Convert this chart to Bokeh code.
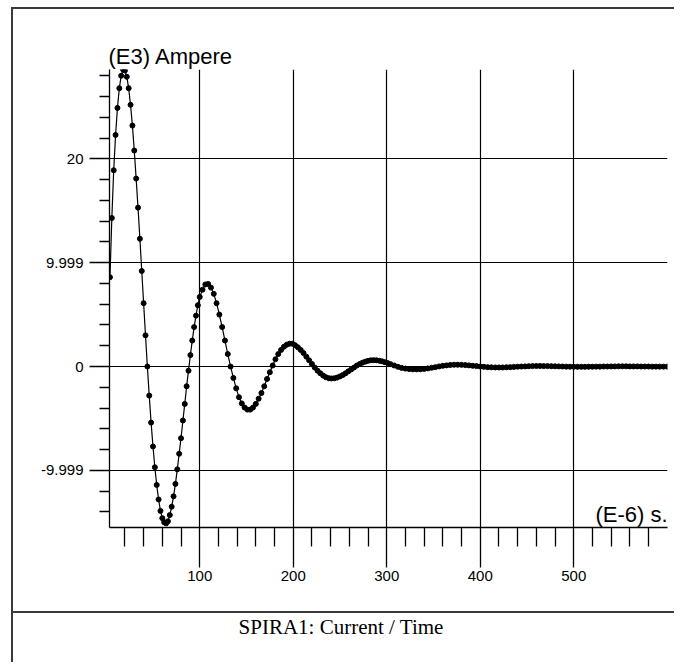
from bokeh.plotting import figure
from bokeh.models import FixedTicker, Label, Range1d, Title, Div, InlineStyleSheet
from bokeh.layouts import column
from bokeh.embed import file_html
from bokeh.resources import INLINE

# ---- data (time in E-6 s, current in E3 A) ----
time_a = list(range(4, 102, 2))
current_a = [8.6, 14.3, 18.9, 22.3, 24.9, 26.8, 28.0, 28.6, 28.5, 27.9,
             26.8, 25.2, 23.2, 20.8, 18.1, 15.3, 12.3, 9.2, 6.1, 3.0,
             0.0, -2.8, -5.4, -7.7, -9.7, -11.4, -12.8, -13.9, -14.6, -15.0,
             -15.1, -14.9, -14.3, -13.5, -12.5, -11.3, -9.9, -8.4, -6.9, -5.2,
             -3.6, -1.9, -0.4, 1.1, 2.5, 3.8, 4.9, 5.9, 6.7]

time_b = list(range(103, 304, 3))
current_b = [7.4, 7.9, 7.95, 7.6, 7.0, 6.1, 5.0, 3.8, 2.5, 1.2,
             0.0, -1.1, -2.1, -2.95, -3.55, -3.95, -4.15, -4.15, -3.95, -3.6,
             -3.1, -2.55, -1.9, -1.2, -0.55, 0.1, 0.7, 1.2, 1.6, 1.9,
             2.1, 2.2, 2.2, 2.05, 1.85, 1.6, 1.3, 0.95, 0.6, 0.25,
             -0.1, -0.4, -0.65, -0.87, -1.03, -1.12, -1.15, -1.13, -1.06, -0.95,
             -0.82, -0.65, -0.46, -0.28, -0.1, 0.09, 0.24, 0.37, 0.47, 0.55,
             0.6, 0.61, 0.6, 0.56, 0.5, 0.42, 0.33]

time_c = list(range(304, 604, 4))
current_c = [0.23, 0.1, -0.03, -0.13, -0.2, -0.25, -0.27, -0.27, -0.26, -0.23,
             -0.18, -0.12, -0.06, 0.01, 0.07, 0.11, 0.15, 0.17, 0.17, 0.16,
             0.14, 0.11, 0.07, 0.04, 0.0, -0.03, -0.06, -0.08, -0.09, -0.09,
             -0.09, -0.07, -0.06, -0.04, -0.02, 0.0, 0.01, 0.03, 0.04, 0.05,
             0.05, 0.04, 0.04, 0.03, 0.02, 0.01, 0.0, -0.01, -0.02, -0.02,
             -0.03, -0.03, -0.03, -0.02, -0.02, -0.01, -0.01, 0.0, 0.0, 0.01,
             0.01, 0.02, 0.02, 0.02, 0.01, 0.01, 0.01, 0.0, 0.0, 0.0,
             -0.01, -0.01, -0.01, -0.01, -0.01]

time_us = time_a + time_b + time_c
current_ka = current_a + current_b + current_c

x_major = [100, 200, 300, 400, 500]
x_minor = [20, 40, 60, 80, 120, 140, 160, 180, 220, 240, 260, 280, 320, 340,
           360, 380, 420, 440, 460, 480, 520, 540, 560, 580]
y_major = [-10, 0, 10, 20]
y_minor = [-14, -12, -8, -6, -4, -2, 2, 4, 6, 8, 12, 14, 16, 18, 22, 24, 26, 28]
y_tick_text = {-10: "-9.999", 0: "0", 10: "9.999", 20: "20"}

y_title = "(E3) Ampere"
x_title = "(E-6) s."
chart_title = "SPIRA1: Current / Time"

SANS = "Liberation Sans"
SERIF = "Liberation Serif"
EDGE = "#3a3a3a"

no_scrollbars = InlineStyleSheet(css=(
    "* { scrollbar-width: none !important; }\n"
    "*::-webkit-scrollbar { display: none !important; width: 0 !important; "
    "height: 0 !important; }"
))

p = figure(width=661, height=602, output_backend="svg", toolbar_location=None,
           x_range=Range1d(3.5, 600.3), y_range=Range1d(-15.5, 28.6),
           min_border_left=96, min_border_right=7,
           min_border_top=60, min_border_bottom=84, margin=0,
           styles={"overflow": "hidden"}, stylesheets=[no_scrollbars])
p.outline_line_color = None
p.background_fill_color = "white"
p.border_fill_color = "white"

for ax in (p.xaxis[0], p.yaxis[0]):
    ax.axis_line_color = "black"
    ax.axis_line_width = 1.3
    ax.major_tick_line_color = "black"
    ax.minor_tick_line_color = "black"
    ax.major_tick_line_width = 1.3
    ax.minor_tick_line_width = 1.3
    ax.major_tick_in = 0
    ax.minor_tick_in = 0
    ax.major_label_text_font = SANS
    ax.major_label_text_font_size = "15px"
    ax.major_label_text_color = "black"

p.xaxis.ticker = FixedTicker(ticks=x_major, minor_ticks=x_minor)
p.xaxis.major_tick_out = 40
p.xaxis.minor_tick_out = 19
p.xaxis.major_label_standoff = 3

p.yaxis.ticker = FixedTicker(ticks=y_major, minor_ticks=y_minor)
p.yaxis.major_label_overrides = {float(k): v for k, v in y_tick_text.items()}
p.yaxis.major_tick_out = 20
p.yaxis.minor_tick_out = 10
p.yaxis.major_label_standoff = 6

p.xgrid.ticker = FixedTicker(ticks=x_major)
p.ygrid.ticker = FixedTicker(ticks=y_major)
for g in (p.xgrid[0], p.ygrid[0]):
    g.grid_line_color = "black"
    g.grid_line_alpha = 1.0
    g.grid_line_width = 1.2

p.line(time_us, current_ka, line_color="black", line_width=1.2)
p.scatter(time_us, current_ka, marker="circle", size=5, color="black")

p.add_layout(Title(text=y_title, text_font=SANS, text_font_size="22px",
                   text_font_style="normal", text_color="black",
                   align="left", offset=-1, standoff=2), "above")
p.add_layout(Label(x=600.3, y=-15.5, text=x_title, text_font=SANS,
                   text_font_size="22px", text_color="black",
                   text_align="right", text_baseline="bottom", y_offset=1))

caption = Div(text=chart_title, width=661, height=51, margin=0, styles={
    "background-color": "white",
    "border-top": "2px solid " + EDGE,
    "font-family": SERIF,
    "font-size": "21px",
    "line-height": "28px",
    "color": "black",
    "text-align": "center",
    "text-indent": "-5px",
    "overflow": "hidden",
})

layout = column(p, caption, spacing=0, margin=(7, 0, 0, 11), styles={
    "border-left": "2px solid " + EDGE,
    "border-top": "2px solid " + EDGE,
    "background-color": "white",
    "overflow": "hidden",
})
open("out.html", "w").write(file_html(layout, INLINE))
